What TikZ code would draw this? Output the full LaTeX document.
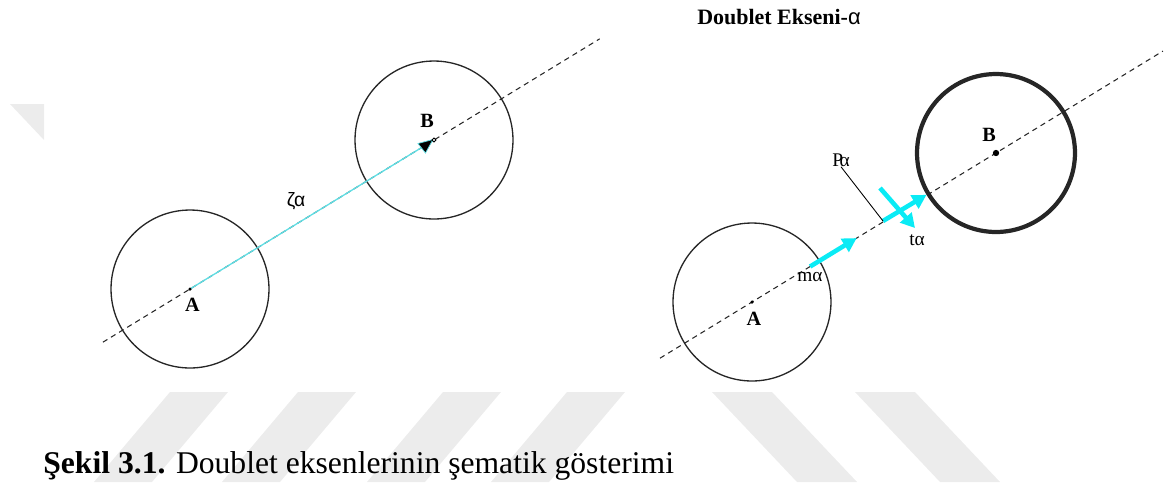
\documentclass[tikz,border=0pt]{standalone}
\usepackage{fontspec}
\setmainfont{Liberation Serif}
\newfontfamily\sansgreek{Liberation Sans}
\usetikzlibrary{arrows.meta,positioning,calc}
\definecolor{aqua}{RGB}{95,222,228}
\definecolor{vivid}{RGB}{10,235,245}
\definecolor{mist}{RGB}{236,236,236}
\tikzset{
  >={Triangle[length=8pt,width=8.5pt]},
  ball/.style={circle,draw=black!85,line width=#1,minimum size=3.16cm,inner sep=0pt},
  ball/.default=0.75pt,
  axis/.style={draw=black!85,line width=0.6pt,dash pattern=on 3pt off 2.4pt},
  push/.style={->,line width=2.6pt,draw=vivid},
  tag/.style={font=\fontsize{11}{12}\selectfont,inner sep=0pt},
  pointname/.style={font=\fontsize{11.5}{13}\selectfont\bfseries,inner sep=0pt},
  stripe/.style={fill=mist,draw=none},
}

\begin{document}
\begin{tikzpicture}[x=0.02cm,y=-0.02cm]
  \useasboundingbox (0,0) rectangle (1171,485);
  % watermark
  \fill[stripe] (10,104) -- (44,104) -- (44,140) -- cycle;
  \foreach \u in {170,298,443,567}
    \fill[stripe] (\u,392) -- ++(58,0) -- ++(-76,90) -- ++(-58,0) -- cycle;
  \foreach \u in {712,855}
    \fill[stripe] (\u,392) -- ++(60,0) -- ++(85,90) -- ++(-60,0) -- cycle;

  % left: distance between the two centres
  \node[ball] (A) at (190,289) {};
  \node[ball] (B) at (434,140) {};
  \draw[axis] ($(A)!-0.357!(B)$) -- ($(A)!1.679!(B)$);
  \draw[aqua,line width=0.75pt] (A.center) -- (B.center);
  \fill[black,draw=aqua,line width=0.4pt] ($(B)+(-16,3.5)$) -- ($(B)+(-1,-0.5)$) -- ($(B)+(-8.5,13)$) -- cycle;
  \fill (A) circle (1pt);
  \draw[line width=0.5pt,fill=white] (B) circle (1.1pt);
  \node[pointname] (la) at (192.5,305) {A};
  \node[pointname] (lb) at (427,121) {B};
  \node[tag,font=\sansgreek\fontsize{11}{12}\selectfont] (zeta) at (296,201) {ζα};

  % right: doublet axis
  \node[font=\fontsize{12.5}{14}\selectfont\bfseries] (title) at (779,17) {Doublet Ekseni-{\sansgreek\mdseries α}};
  \node[ball] (A2) at (752,302) {};
  \node[ball=2.4pt] (B2) at (996,153) {};
  \draw[axis] ($(A2)!-0.377!(B2)$) -- ($(A2)!1.684!(B2)$);
  \fill (A2) circle (1pt);
  \fill (B2) circle (1.8pt);
  \node[pointname] (la2) at (754,319) {A};
  \node[pointname] (lb2) at (989,135) {B};
  \draw[push] ($(A2)!0.238!(B2)$) -- ($(A2)!0.429!(B2)$);
  \coordinate (pfoot) at (883,221);
  \draw[push] (pfoot) -- (B2);
  \coordinate (ttop) at (880,188);
  \coordinate (tend) at (915,228);
  \draw[push] (ttop) -- (tend);
  \node[tag] (pa) at (841,160) {P\kern-2pt α};
  \draw[line width=0.5pt] (pa.south) -- (pfoot);
  \node[tag] (ta) at (917,240) {tα};
  \node[tag] (ma) at (810,277) {mα};

  \node[anchor=base west,inner sep=0pt,font=\fontsize{18}{21}\selectfont] (caption) at (43,473)
    {\textbf{Şekil 3.1.} Doublet eksenlerinin şematik gösterimi};
\end{tikzpicture}
\end{document}
